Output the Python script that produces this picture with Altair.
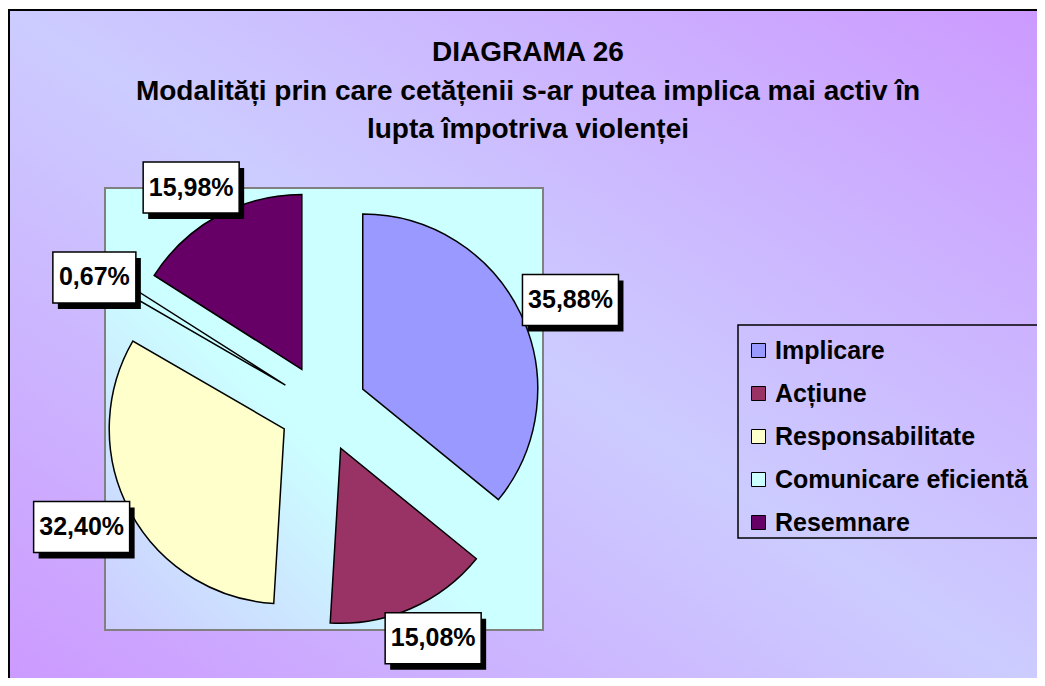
import altair as alt
import pandas as pd

# ---- data ----
categories = ["Implicare", "Acțiune", "Responsabilitate", "Comunicare eficientă", "Resemnare"]
values = [35.88, 15.08, 32.40, 0.67, 15.98]
colors = ["#9999FF", "#993366", "#FFFFCC", "#CCFFFF", "#660066"]
title_lines = [
    "DIAGRAMA 26",
    "Modalități prin care cetățenii s-ar putea implica mai activ în",
    "lupta împotriva violenței",
]

W, H = 1029, 670
CX, CY = 315, 400        # pie centre (px)
R = 175                  # pie radius
EXPLODE = 44             # slice offset
LR = 226                 # label anchor radius
FONT = "Liberation Sans"

df = pd.DataFrame({"cat": categories, "v": values, "idx": list(range(len(values)))})

base = (
    alt.Chart(df)
    .transform_joinaggregate(total="sum(v)")
    .transform_window(cum="sum(v)", sort=[alt.SortField("idx")], frame=[None, 0])
    .transform_calculate(
        t1="datum.cum / datum.total * 2 * PI",
        t0="(datum.cum - datum.v) / datum.total * 2 * PI",
    )
    .transform_calculate(mid="(datum.t0 + datum.t1) / 2")
    .transform_calculate(
        cx=f"{CX} + {EXPLODE} * sin(datum.mid)",
        cy=f"{CY} - {EXPLODE} * cos(datum.mid)",
        label="replace(format(datum.v, '.2f'), '.', ',') + '%'",
    )
    .transform_calculate(
        bw="13 * length(datum.label) + 18",
        bh="51",
    )
    .transform_calculate(
        lx=f"{CX} + {LR} * sin(datum.mid) + datum.bw / 2 * sin(datum.mid)",
        ly=f"{CY} - {LR} * cos(datum.mid) - datum.bh / 2 * cos(datum.mid)",
    )
    .transform_calculate(
        bx1="datum.lx - datum.bw / 2",
        bx2="datum.lx + datum.bw / 2",
        by1="datum.ly - datum.bh / 2",
        by2="datum.ly + datum.bh / 2",
        sx1="datum.lx - datum.bw / 2 + 5",
        sx2="datum.lx + datum.bw / 2 + 5",
        sy1="datum.ly - datum.bh / 2 + 6",
        sy2="datum.ly + datum.bh / 2 + 6",
    )
)

one = alt.Data(values=[{}])

bg = alt.Chart(one).mark_rect(
    fill=alt.LinearGradient(
        gradient="linear", x1=0, y1=1, x2=1, y2=0,
        stops=[
            alt.GradientStop(color="#CC99FF", offset=0),
            alt.GradientStop(color="#CCCCFF", offset=0.5),
            alt.GradientStop(color="#CC99FF", offset=1),
        ],
    ),
    stroke="black", strokeWidth=2,
).encode(x=alt.value(1), x2=alt.value(1045), y=alt.value(2), y2=alt.value(690))

plot_area = alt.Chart(one).mark_rect(
    fill=alt.LinearGradient(
        gradient="linear", x1=0, y1=1, x2=1, y2=0,
        stops=[
            alt.GradientStop(color="#CCCCFF", offset=0),
            alt.GradientStop(color="#CCFFFF", offset=0.45),
            alt.GradientStop(color="#CCFFFF", offset=1),
        ],
    ),
    stroke="#808080", strokeWidth=2,
).encode(x=alt.value(97), x2=alt.value(535), y=alt.value(180), y2=alt.value(622))

legend_box = alt.Chart(one).mark_rect(
    fill="transparent", stroke="black", strokeWidth=1.5,
).encode(x=alt.value(730), x2=alt.value(1060), y=alt.value(317), y2=alt.value(530))

title_df = pd.DataFrame({"line": title_lines, "row": [0, 1, 2]})
title = alt.Chart(title_df).mark_text(
    font=FONT, fontSize=28, fontWeight="bold", color="black", baseline="middle", align="center",
).transform_calculate(
    ty="45 + datum.row * 38.5"
).encode(
    x=alt.value(520), y=alt.Y("ty:Q", scale=None), text="line:N",
)

pie = base.mark_arc(radius=R, stroke="black", strokeWidth=1.5).encode(
    x=alt.X("cx:Q", scale=None),
    y=alt.Y("cy:Q", scale=None),
    theta=alt.Theta("t0:Q", scale=None, stack=None),
    theta2="t1:Q",
    color=alt.Color(
        "cat:N",
        scale=alt.Scale(domain=categories, range=colors),
        sort=categories,
        legend=alt.Legend(
            title=None, orient="none", legendX=738, legendY=330,
            symbolType="square", symbolSize=196, symbolStrokeColor="black",
            symbolStrokeWidth=1, symbolOpacity=1,
            labelFont=FONT, labelFontSize=25, labelFontWeight="bold", labelColor="black",
            labelOffset=4, rowPadding=17, padding=0, labelLimit=400,
        ),
    ),
)

shadow = base.mark_rect(color="black").encode(
    x=alt.X("sx1:Q", scale=None), x2="sx2:Q",
    y=alt.Y("sy1:Q", scale=None), y2="sy2:Q",
)
box = base.mark_rect(fill="white", stroke="black", strokeWidth=1.5).encode(
    x=alt.X("bx1:Q", scale=None), x2="bx2:Q",
    y=alt.Y("by1:Q", scale=None), y2="by2:Q",
)
labels = base.mark_text(
    font=FONT, fontSize=25, fontWeight="bold", color="black", baseline="middle", align="center",
).encode(
    x=alt.X("lx:Q", scale=None), y=alt.Y("ly:Q", scale=None), text="label:N",
)

chart = alt.layer(
    bg, plot_area, legend_box, title, pie, shadow, box, labels
).properties(
    width=W, height=H, padding=0,
    autosize=alt.AutoSizeParams(type="none"),
).configure_view(stroke=None)

chart.save("out.html", embed_options={"renderer": "svg", "actions": False})
